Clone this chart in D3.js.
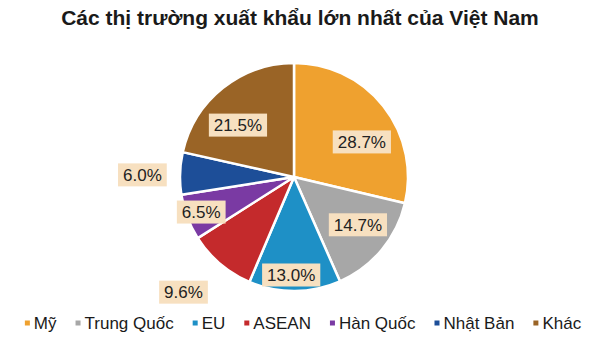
<!DOCTYPE html>
<html>
<head>
<meta charset="utf-8">
<script src="https://cdn.jsdelivr.net/npm/d3@7"></script>
<style>
  body { margin: 0; background: #fff; }
  svg { font-family: "Liberation Sans", Arial, sans-serif; }
</style>
</head>
<body>
<svg id="chart" width="600" height="351"></svg>
<script>
// Data
const markets = ['Mỹ', 'Trung Quốc', 'EU', 'ASEAN', 'Hàn Quốc', 'Nhật Bản', 'Khác'];
const shares = [28.7, 14.7, 13.0, 9.6, 6.5, 6.0, 21.5];
const sliceColors = ['#EFA12F', '#A7A7A7', '#1E90C6', '#C42A2C', '#7A3AA3', '#1D4E98', '#9A6426'];

// Layout: label distance (fraction of radius) and angle nudge (degrees) per slice
const labelRadius = [0.67, 0.70, 0.86, 1.40, 0.87, 1.33, 0.67];
const labelShift = [11, -3, 2, 3.5, 0, -1, -8.5];

const svg = d3.select('#chart');
const width = 600, height = 351;
const cx = 294, cy = 177, radius = 114;

const data = markets.map((m, i) => ({ market: m, value: shares[i], idx: i }));

svg.append('text')
    .attr('x', width / 2)
    .attr('y', 25)
    .attr('text-anchor', 'middle')
    .attr('font-size', 21)
    .attr('font-weight', 'bold')
    .attr('fill', '#1a1a1a')
    .text('Các thị trường xuất khẩu lớn nhất của Việt Nam');

const color = d3.scaleOrdinal().domain(markets).range(sliceColors);

const pie = d3.pie().sort(null).value(d => d.value);
const arc = d3.arc().innerRadius(0).outerRadius(radius);

const g = svg.append('g').attr('transform', `translate(${cx},${cy})`);
const arcs = pie(data);

g.selectAll('path.slice')
  .data(arcs)
  .join('path')
    .attr('class', 'slice')
    .attr('d', arc)
    .attr('fill', d => color(d.data.market))
    .attr('stroke', '#fff')
    .attr('stroke-width', 2.5)
    .attr('stroke-linejoin', 'round');

// Labels in beige boxes
const labels = g.selectAll('g.label')
  .data(arcs)
  .join('g')
    .attr('class', 'label')
    .attr('transform', d => {
      const r = radius * labelRadius[d.data.idx];
      const a = (d.startAngle + d.endAngle) / 2 + labelShift[d.data.idx] * Math.PI / 180;
      return `translate(${Math.sin(a) * r},${-Math.cos(a) * r})`;
    });

labels.append('rect');
labels.append('text')
    .attr('text-anchor', 'middle')
    .attr('dy', '0.36em')
    .attr('font-size', 17)
    .attr('fill', '#222')
    .text(d => d.data.value.toFixed(1) + '%');

labels.each(function() {
  const t = d3.select(this).select('text');
  const w = t.node().getComputedTextLength();
  d3.select(this).select('rect')
      .attr('x', -w / 2 - 5)
      .attr('y', -11.5)
      .attr('width', w + 10)
      .attr('height', 23)
      .attr('fill', '#F7E0C0');
});

// Legend
const legend = svg.append('g').attr('transform', 'translate(0,323)');
const items = legend.selectAll('g.item')
  .data(markets)
  .join('g')
    .attr('class', 'item');

items.append('rect')
    .attr('x', 0)
    .attr('y', -2.5)
    .attr('width', 5)
    .attr('height', 5)
    .attr('fill', d => color(d));

items.append('text')
    .attr('x', 9)
    .attr('dy', '0.36em')
    .attr('font-size', 17)
    .attr('fill', '#1a1a1a')
    .text(d => d);

let lx = 0;
const gap = 19;
const offsets = [];
items.each(function() {
  offsets.push(lx);
  lx += 9 + d3.select(this).select('text').node().getComputedTextLength() + gap;
});
const totalW = lx - gap;
const startX = 303 - totalW / 2;
items.attr('transform', (d, i) => `translate(${startX + offsets[i]},0)`);
</script>
</body>
</html>
